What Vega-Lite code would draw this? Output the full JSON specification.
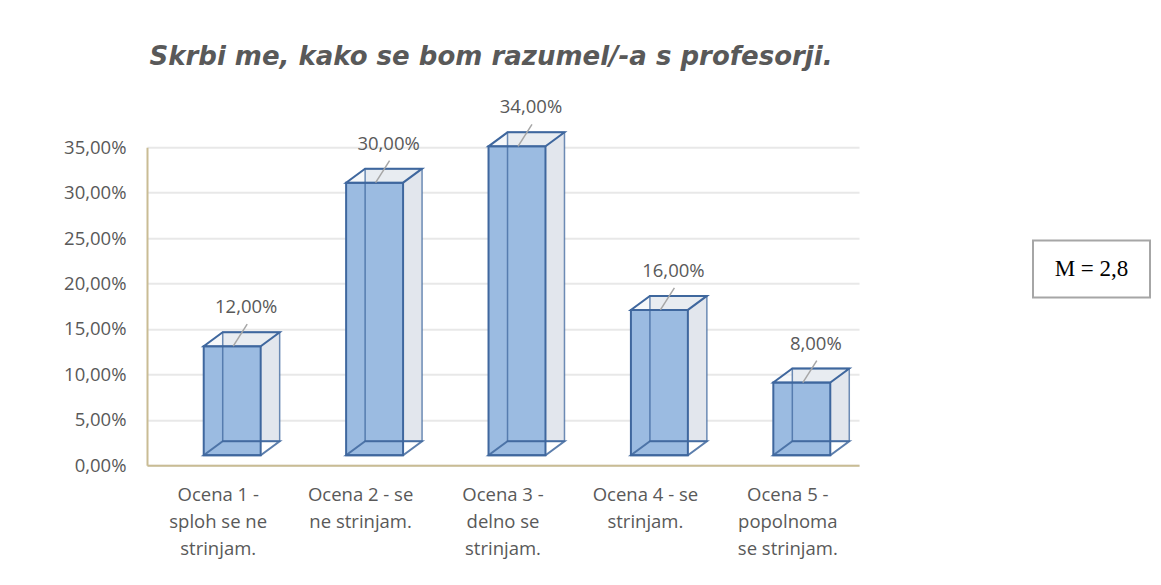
{
  "$schema": "https://vega.github.io/schema/vega-lite/v6.json",
  "background": "white",
  "padding": {"left": 63, "top": 44, "right": 5, "bottom": 5},
  "config": {
    "locale": {"number": {"decimal": ",", "thousands": ".", "grouping": [3], "currency": ["", " €"]}},
    "font": "Open Sans",
    "view": {"stroke": null}
  },
  "data": {"values": [
    {"ocena": "Ocena 1 -|sploh se ne|strinjam.", "delez": 0.12},
    {"ocena": "Ocena 2 - se|ne strinjam.", "delez": 0.30},
    {"ocena": "Ocena 3 -|delno se|strinjam.", "delez": 0.34},
    {"ocena": "Ocena 4 - se|strinjam.", "delez": 0.16},
    {"ocena": "Ocena 5 -|popolnoma|se strinjam.", "delez": 0.08}
  ]},
  "hconcat": [
    {
      "width": 712,
      "height": 318,
      "title": {
        "text": "Skrbi me, kako se bom razumel/-a s profesorji.",
        "font": "DejaVu Sans",
        "fontSize": 26,
        "fontWeight": "bold",
        "fontStyle": "italic",
        "color": "#595959",
        "anchor": "middle",
        "dx": -12,
        "offset": 28
      },
      "encoding": {
        "x": {
          "field": "ocena", "type": "nominal", "sort": null,
          "scale": {"paddingInner": 0.6, "paddingOuter": 0.3},
          "axis": {
            "title": null, "labelAngle": 0, "ticks": false,
            "labelExpr": "split(datum.label, '|')",
            "labelFont": "Open Sans", "labelFontSize": 18.5, "labelLineHeight": 27,
            "labelColor": "#595959", "labelPadding": 20, "labelBaseline": "top",
            "domainColor": "#c9bc94", "domainWidth": 2
          }
        },
        "y": {
          "field": "delez", "type": "quantitative",
          "scale": {"domain": [0, 0.35], "nice": false},
          "axis": {
            "title": null, "values": [0, 0.05, 0.1, 0.15, 0.2, 0.25, 0.3, 0.35],
            "format": ".2%", "ticks": false,
            "labelFont": "Open Sans", "labelFontSize": 18.5, "labelColor": "#595959", "labelPadding": 21,
            "domainColor": "#c9bc94", "domainWidth": 2,
            "grid": true, "gridColor": "#e8e8e8", "gridWidth": 2
          }
        }
      },
      "layer": [
        {"mark": {"type": "bar", "fill": "#e2e6ed", "xOffset": 33, "yOffset": -24}},
        {"mark": {"type": "bar", "fill": "#9bbbe1", "stroke": "#3f679e", "strokeWidth": 2, "xOffset": 14, "yOffset": -10}},
        {"mark": {"type": "point", "shape": "M-1,0.1842L0.5,0.1842L1,-0.1842L-0.5,-0.1842Z", "size": 5776, "filled": true, "fill": "#eef1f6", "fillOpacity": 0.5, "stroke": "#3f679e", "strokeWidth": 2, "opacity": 1, "xOffset": 23.5, "yOffset": -17}},
        {"mark": {"type": "bar", "fill": "transparent", "stroke": "#3f679e", "strokeOpacity": 0.75, "strokeWidth": 1.5, "xOffset": 33, "yOffset": -24}},
        {"mark": {"type": "point", "shape": "M-1,0.1842L0.5,0.1842L1,-0.1842L-0.5,-0.1842Z", "size": 5776, "filled": false, "stroke": "#3f679e", "strokeOpacity": 0.85, "strokeWidth": 2, "opacity": 1, "xOffset": 23.5, "yOffset": -17},
         "encoding": {"y": {"datum": 0}}},
        {"mark": {"type": "point", "shape": "M-0.636,1L0.636,-1", "size": 484, "filled": false, "stroke": "#a6a6a6", "strokeWidth": 1.5, "opacity": 1, "xOffset": 22, "yOffset": -21}},
        {"mark": {"type": "text", "fontSize": 18.5, "font": "Open Sans", "color": "#595959", "baseline": "middle", "xOffset": 28, "yOffset": -49},
         "encoding": {"text": {"field": "delez", "type": "quantitative", "format": ".2%"}}}
      ]
    },
    {
      "width": 117,
      "height": 57,
      "view": {"stroke": "#a6a6a6", "strokeWidth": 2, "fill": "white"},
      "title": {"text": "\u00a0", "orient": "bottom", "fontSize": 10, "offset": 156},
      "data": {"values": [{"oznaka": "M = 2,8"}]},
      "mark": {"type": "text", "font": "Liberation Serif", "fontSize": 23, "color": "black", "baseline": "middle", "align": "center"},
      "encoding": {"text": {"field": "oznaka", "type": "nominal"}}
    }
  ],
  "spacing": 173,
  "center": true
}
